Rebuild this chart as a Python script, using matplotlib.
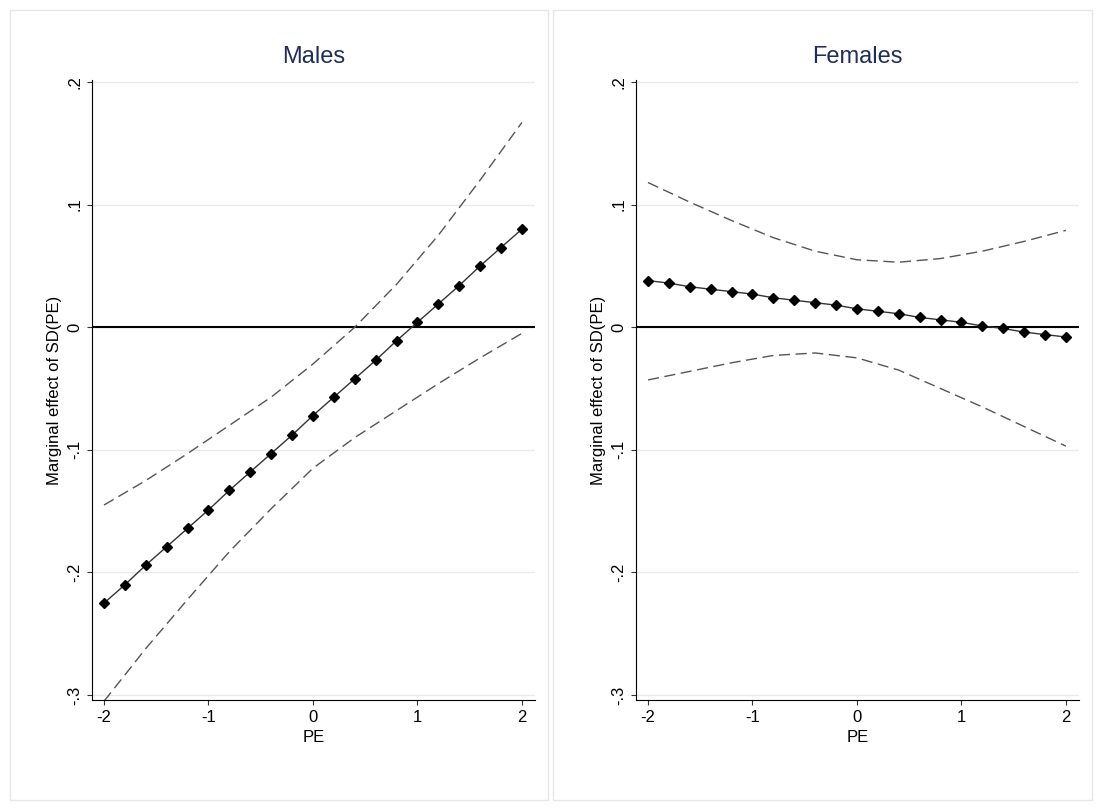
import numpy as np
import matplotlib.pyplot as plt
from matplotlib.patches import Rectangle

plt.rcParams['font.family'] = ['Liberation Sans', 'DejaVu Sans']

pe = [-2.0, -1.8, -1.6, -1.4, -1.2, -1.0, -0.8, -0.6, -0.4, -0.2, 0.0,
      0.2, 0.4, 0.6, 0.8, 1.0, 1.2, 1.4, 1.6, 1.8, 2.0]
male_me = [-.225, -.210, -.194, -.179, -.164, -.149, -.133, -.118, -.103, -.088, -.072,
           -.057, -.042, -.027, -.011, .004, .019, .034, .050, .065, .080]
fem_me = [.038, .036, .033, .031, .029, .027, .024, .022, .020, .018, .015,
          .013, .011, .008, .006, .004, .001, -.001, -.004, -.006, -.008]

pe_ci = [-2.0, -1.6, -1.2, -0.8, -0.4, 0.0, 0.4, 0.8, 1.2, 1.6, 2.0]
male_hi = [-.145, -.125, -.103, -.080, -.057, -.030, 0.0, .035, .075, .120, .167]
male_lo = [-.305, -.262, -.222, -.183, -.148, -.115, -.090, -.068, -.046, -.025, -.005]
fem_hi = [.118, .102, .087, .073, .062, .055, .053, .056, .062, .070, .079]
fem_lo = [-.043, -.036, -.029, -.023, -.021, -.025, -.035, -.050, -.065, -.081, -.097]

yticks = [-.3, -.2, -.1, 0, .1, .2]
ylabels = ['-.3', '-.2', '-.1', '0', '.1', '.2']

fig = plt.figure(figsize=(11.01, 8.11), dpi=100)
fig.patches.append(Rectangle((10/1101, 1-800/811), 538/1101, 790/811, transform=fig.transFigure,
                             fill=False, ec='#e6e6e6', lw=1))
fig.patches.append(Rectangle((553/1101, 1-800/811), 539/1101, 790/811, transform=fig.transFigure,
                             fill=False, ec='#e6e6e6', lw=1))

panels = [("Males", 92, male_me, male_hi, male_lo), ("Females", 636, fem_me, fem_hi, fem_lo)]
for title, x0, me, hi, lo in panels:
    ax = fig.add_axes([x0/1101, 1-700/811, 443/1101, 620/811])
    for y in yticks:
        ax.axhline(y, color='#eaeaea', lw=1, zorder=0)
    ax.axhline(0, color='black', lw=1.5, zorder=1)
    ax.plot(pe_ci, hi, color='#555555', ls=(0, (8, 4)), lw=1)
    ax.plot(pe_ci, lo, color='#555555', ls=(0, (8, 4)), lw=1)
    ax.plot(pe, me, color='#333333', lw=1, marker='D', ms=5.5, mfc='black', mec='black')
    ax.set_xlim(-2.115, 2.125)
    ax.set_ylim(-0.304, 0.2016)
    ax.set_xticks([-2, -1, 0, 1, 2])
    ax.set_xticklabels(['-2', '-1', '0', '1', '2'])
    ax.set_yticks(yticks)
    ax.set_yticklabels(ylabels, rotation=90, va='center')
    ax.tick_params(labelsize=12, color='#333333')
    for s in ['top', 'right']:
        ax.spines[s].set_visible(False)
    ax.set_xlabel('PE', fontsize=12)
    ax.set_ylabel('Marginal effect of SD(PE)', fontsize=12)
    ax.set_title(title, fontsize=17, color='#1e2e5c', pad=12)

fig.savefig('out.png')
